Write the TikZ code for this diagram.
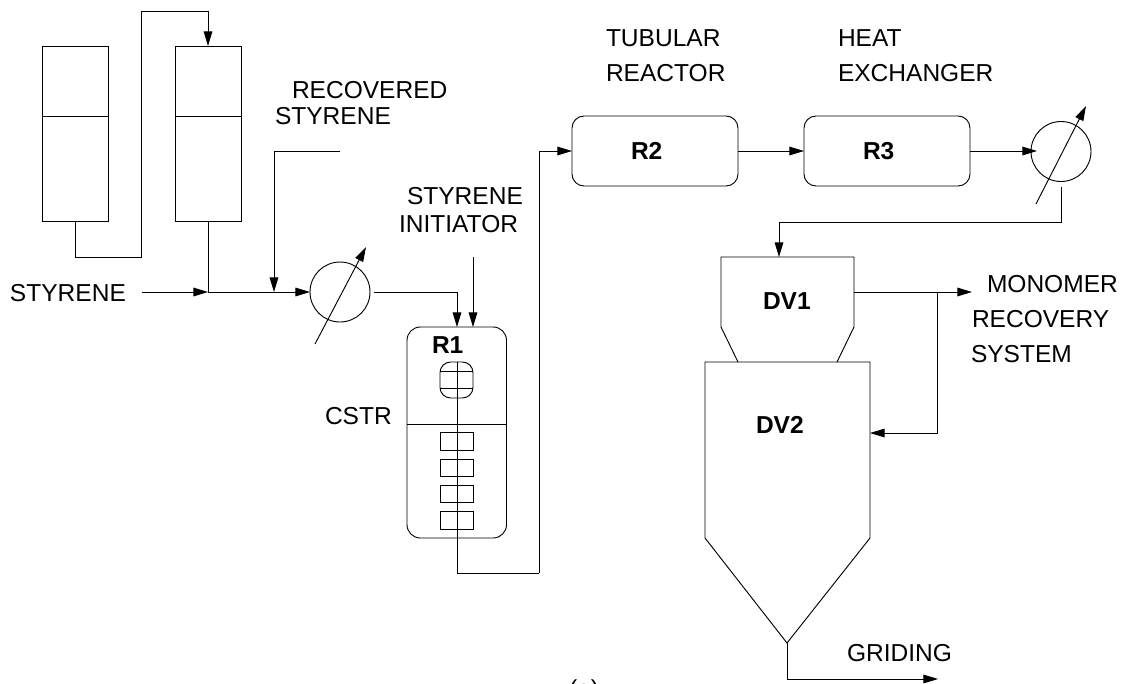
\documentclass[tikz,border=0pt]{standalone}
\usepackage{fontspec}
\setmainfont{Liberation Sans}
\usetikzlibrary{arrows.meta,calc}
\tikzset{
  line/.style={draw=black,line width=0.7pt},
  flow/.style={line,-{Triangle[length=11pt,width=6.5pt]}},
  vessel/.style={draw=black,line width=0.7pt,rectangle,inner sep=0pt,outer sep=0pt,minimum width=#1*0.75pt},
  tank/.style={vessel=66,minimum height=175*0.75pt},
  reactor/.style={vessel=166,minimum height=70*0.75pt,rounded corners=9pt},
  hxc/.style={draw=black,line width=0.7pt,circle,inner sep=0pt,outer sep=0pt,minimum size=60*0.75pt},
  tag/.style={inner sep=0pt,outer sep=0pt,anchor=base west,font=\fontsize{18.4}{20}\selectfont},
  btag/.style={tag,font=\fontsize{18.4}{20}\selectfont\bfseries},
  impbox/.style={vessel=33,minimum height=17.5*0.75pt}
}
\begin{document}
\begin{tikzpicture}[x=0.75pt,y=-0.75pt]
\useasboundingbox (0,0) rectangle (1122,683);
% storage tanks
\node[tank] (t1) at (75,133.5) {};
\node[tank] (t2) at (208,133.5) {};
\draw[line] (42,116) -- (108,116);
\draw[line] (175,116) -- (241,116);
\coordinate (ttop) at (141,11);
\coordinate (tbot) at (141,257);
\draw[flow] (t1.south) |- (tbot) -- (ttop) -| (t2.north);
% feed
\coordinate (feedstart) at (142,292);
\coordinate (junction) at (208,292);
\node[hxc] (hx1) at (340,292) {};
\draw[flow] (feedstart) -- (junction);
\draw[line] (t2.south) -- (junction);
\draw[flow] (junction) -- (hx1.west);
\coordinate (recstart) at (340,151);
\coordinate (recend) at (274,292);
\draw[flow] (recstart) -| (recend);
\coordinate (d1a) at (315,344);
\coordinate (d1b) at (366,247);
\draw[flow] (d1a) -- (d1b);
% R1
\node[vessel=99.5,minimum height=211*0.75pt,rounded corners=10pt] (r1) at (456.75,432.5) {};
\draw[line] (r1.west |- 0,424) -- (r1.east |- 0,424);
\node[vessel=33,minimum height=36*0.75pt,rounded corners=8pt] (imp) at (456.5,380) {};
\draw[line] (440,371) -- (473,371) (440,388) -- (473,388);
\node[impbox] (b1) at (456.5,441.5) {};
\node[impbox] (b2) at (456.5,468) {};
\node[impbox] (b3) at (456.5,494) {};
\node[impbox] (b4) at (456.5,520.5) {};
\coordinate (hx1out) at (374,292);
\coordinate (r1in1) at (457,327);
\coordinate (r1in2) at (473,327);
\coordinate (initstart) at (473,257);
\draw[flow] (hx1out) -| (r1in1);
\draw[flow] (initstart) -- (r1in2);
% R2 R3
\node[reactor] (r2) at (655,151) {};
\node[reactor] (r3) at (887,151) {};
\coordinate (low) at (539,573);
\coordinate (shaft) at (457,362);
\coordinate (bend) at (457,573);
\draw[line] (shaft) -- (bend) -- (low);
\draw[flow] (low) |- (r2.west);
\draw[flow] (r2.east) -- (r3.west);
\node[hxc] (hx2) at (1061,151.5) {};
\coordinate (hx2in) at (1037,151);
\draw[flow] (r3.east) -- (hx2in);
\coordinate (d2a) at (1036,204);
\coordinate (d2b) at (1086,106);
\draw[flow] (d2a) -- (d2b);
% DV1
\coordinate (dv1top) at (779,257);
\coordinate (hx2out) at (1061,187);
\coordinate (hx2turn) at (1061,222);
\draw[line] (721,327) -- (721,257) -- (854,257) -- (854,327) -- (837,362);
\draw[line] (721,327) -- (738,362);
\draw[flow] (hx2out) -- (hx2turn) -| (dv1top);
% DV2
\draw[line] (705,362) -- (870,362) -- (870,538) -- (787,643) -- (705,538) -- cycle;
\coordinate (apex) at (787,643);
\coordinate (dv1out) at (854,292);
\coordinate (monend) at (972,292);
\coordinate (branch) at (937,292);
\coordinate (dv2in) at (870,433);
\draw[flow] (dv1out) -- (monend);
\draw[flow] (branch) |- (dv2in);
\coordinate (gridend) at (938,679);
\draw[flow] (apex) |- (gridend);
% labels
\node[tag] (l1) at (10,301) {STYRENE};
\node[tag] (l2) at (292,98) {RECOVERED};
\node[tag] (l3) at (275,124) {STYRENE};
\node[tag] (l4) at (407,204) {STYRENE};
\node[tag] (l5) at (399,232) {INITIATOR};
\node[tag] (l6) at (325,424) {CSTR};
\node[tag] (l7) at (606,46) {TUBULAR};
\node[tag] (l8) at (606,81) {REACTOR};
\node[tag] (l9) at (838,46) {HEAT};
\node[tag] (l10) at (838,81) {EXCHANGER};
\node[tag] (l11) at (987,292) {MONOMER};
\node[tag] (l12) at (972,327) {RECOVERY};
\node[tag] (l13) at (971,362) {SYSTEM};
\node[tag] (l14) at (847,661) {GRIDING};
\node[tag] (l15) at (569,697) {(a)};
\node[btag] (n1) at (432,353) {R1};
\node[btag] (n2) at (631,159) {R2};
\node[btag] (n3) at (863,159) {R3};
\node[btag] (n4) at (763,309) {DV1};
\node[btag] (n5) at (756,433) {DV2};
\end{tikzpicture}
\end{document}
